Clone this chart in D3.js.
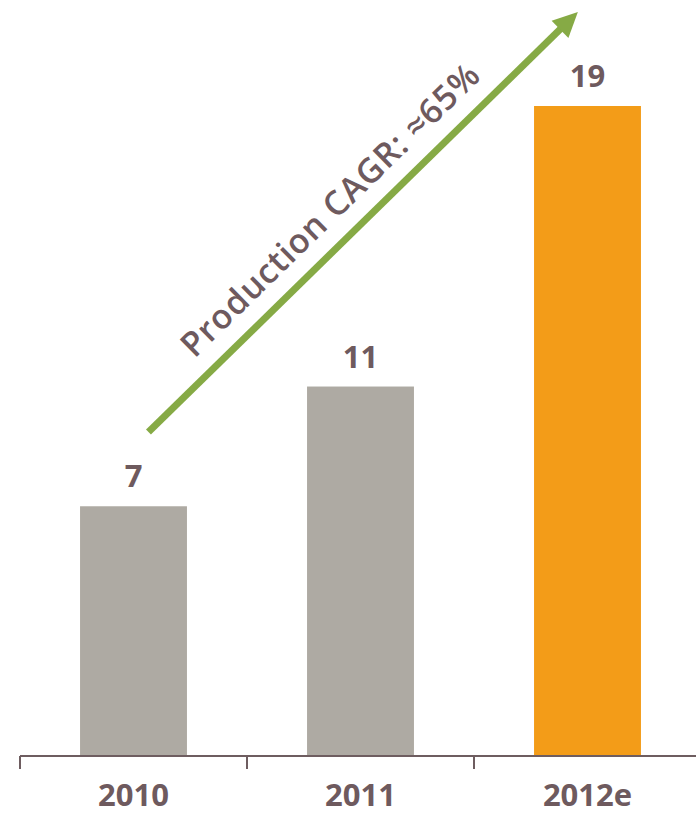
<!DOCTYPE html>
<html>
<head>
<meta charset="utf-8">
<script src="https://cdn.jsdelivr.net/npm/d3@7"></script>
<style>
  html, body { margin: 0; padding: 0; background: #ffffff; }
  svg { display: block; }
  text { font-family: "Open Sans", "Noto Sans", sans-serif; }
</style>
</head>
<body>
<svg id="chart" width="696" height="814"></svg>
<script>
// ---- data ----
const categories = ["2010", "2011", "2012e"];
const values = [7.3, 10.8, 19.0];          // production
const barColors = ["#aeaaa3", "#aeaaa3", "#f39c18"];
const annotationText = "Production CAGR: \u224865%";

// ---- layout ----
const W = 696, H = 814;
const svg = d3.select("#chart");
const textColor = "#6e5a5e";
const axisColor = "#6e5d60";

const x = d3.scaleBand()
  .domain(categories)
  .range([20, 701])
  .paddingInner(0.529)
  .paddingOuter(0.2645);

const y = d3.scaleLinear()
  .domain([0, 19])
  .range([756, 106]);

// bars
svg.append("g").selectAll("rect")
  .data(categories)
  .join("rect")
  .attr("x", d => x(d))
  .attr("y", (d, i) => y(values[i]))
  .attr("width", x.bandwidth())
  .attr("height", (d, i) => y(0) - y(values[i]))
  .attr("fill", (d, i) => barColors[i]);

// value labels
svg.append("g").selectAll("text")
  .data(categories)
  .join("text")
  .attr("x", d => x(d) + x.bandwidth() / 2)
  .attr("y", (d, i) => y(values[i]) - 19)
  .attr("text-anchor", "middle")
  .attr("font-size", 31)
  .attr("font-weight", 700)
  .attr("fill", textColor)
  .text((d, i) => d3.format(".0f")(values[i]));

// x axis: baseline with ticks at band boundaries
const step = x.step();
const boundaries = [0, 1, 2, 3].map(k => x(categories[0]) - x.paddingOuter() * step + k * step);
const axis = svg.append("g");
axis.append("line")
  .attr("x1", boundaries[0]).attr("x2", W)
  .attr("y1", y(0)).attr("y2", y(0))
  .attr("stroke", axisColor).attr("stroke-width", 2.2);
axis.selectAll("line.tick")
  .data(boundaries)
  .join("line")
  .attr("class", "tick")
  .attr("x1", d => d).attr("x2", d => d)
  .attr("y1", y(0)).attr("y2", y(0) + 13)
  .attr("stroke", axisColor).attr("stroke-width", 2);
axis.selectAll("text")
  .data(categories)
  .join("text")
  .attr("x", d => x(d) + x.bandwidth() / 2)
  .attr("y", 806)
  .attr("text-anchor", "middle")
  .attr("font-size", 31)
  .attr("font-weight", 700)
  .attr("fill", textColor)
  .text(d => d);

// CAGR arrow annotation, anchored to the bar scales
const p0 = [x(categories[0]) + x.bandwidth() * 0.64, y(9.47)];
const p1 = [x(categories[2]) + x.bandwidth() * 0.41, y(21.75)];
const dx = p1[0] - p0[0], dy = p1[1] - p0[1];
const len = Math.hypot(dx, dy);
const ux = dx / len, uy = dy / len;       // along
const nx = uy, ny = -ux;                  // perpendicular (upper-left side)
const headLen = 25, headHalf = 12;
const green = "#86aa45";
const shaftEnd = [p1[0] - ux * (headLen - 2), p1[1] - uy * (headLen - 2)];
svg.append("line")
  .attr("x1", p0[0]).attr("y1", p0[1])
  .attr("x2", shaftEnd[0]).attr("y2", shaftEnd[1])
  .attr("stroke", green).attr("stroke-width", 7);
const base = [p1[0] - ux * headLen, p1[1] - uy * headLen];
svg.append("path")
  .attr("d", d3.line()([
    p1,
    [base[0] + nx * headHalf, base[1] + ny * headHalf],
    [base[0] - nx * headHalf, base[1] - ny * headHalf]
  ]) + "Z")
  .attr("fill", green);

const angle = Math.atan2(dy, dx) * 180 / Math.PI;
const tStart = [p0[0] + ux * 84 + nx * 20, p0[1] + uy * 84 + ny * 20];
svg.append("text")
  .attr("transform", `translate(${tStart[0]},${tStart[1]}) rotate(${angle})`)
  .attr("font-size", 34)
  .attr("font-weight", 600)
  .attr("fill", textColor)
  .attr("textLength", 402)
  .attr("lengthAdjust", "spacing")
  .text(annotationText);
</script>
</body>
</html>
